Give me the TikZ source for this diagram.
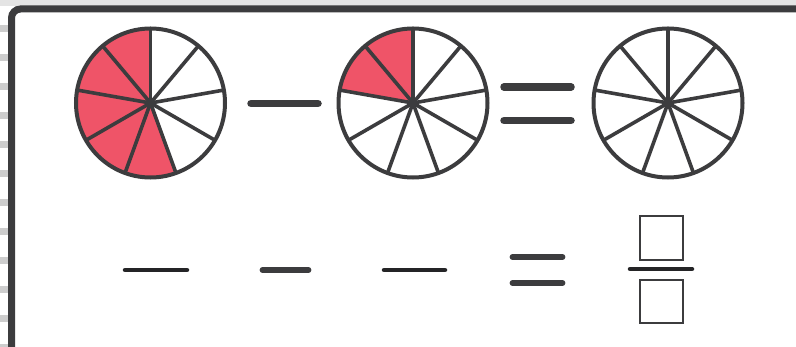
\documentclass[tikz,border=0pt]{standalone}
\definecolor{ink}{HTML}{3C3C3E}
\definecolor{inkdark}{HTML}{242426}
\definecolor{pie}{HTML}{EF5468}
\definecolor{bgstrip}{HTML}{E4E4E4}
\definecolor{dashgray}{HTML}{CDCDCD}
\tikzset{
  rim/.style={draw=ink, line width=4pt},
  spoke/.style={draw=ink, line width=3.6pt, line cap=round},
  opbar/.style={draw=ink, line width=7.5pt, line cap=round},
  blank/.style={draw=inkdark, line width=4.5pt, line cap=round},
  blankmid/.style={draw=ink, line width=5.8pt, line cap=round},
  answerbox/.style={draw=ink, line width=2pt},
}
\begin{document}
\begin{tikzpicture}[x=1pt,y=1pt]
\useasboundingbox (0,0) rectangle (796,346);
\begin{scope}
\clip (0,0) rectangle (796,346);
% background strips
\fill[white] (0,0) rectangle (796,346);
\fill[bgstrip] (0,340) rectangle (796,346);
\foreach \k in {0,...,11} {
  \fill[dashgray] (0,{346-25-29*\k}) rectangle (8,{346-32-29*\k});
}
% frame
\draw[draw=ink, line width=7pt, rounded corners=9pt, fill=white] (11.5,-20) rectangle (820,337);
\end{scope}
% circle centres
\coordinate (c1) at (150.5,243);
\coordinate (c2) at (413,243);
\coordinate (c3) at (668,243);
\def\R{74.5}
% red sectors
\fill[pie] (c1) -- ++(90:\R) arc (90:290:\R) -- cycle;
\fill[pie] (c2) -- ++(90:\R) arc (90:170:\R) -- cycle;
% spokes and rims
\foreach \c in {c1,c2,c3} {
  \foreach \a in {90,50,10,-30,-70,-110,-150,170,130} {
    \draw[spoke] (\c) -- ++(\a:\R);
  }
  \fill[ink] (\c) circle (3.5);
  \draw[rim] (\c) circle (\R);
}
% operators top row
\coordinate (m1) at (251,242.5);
\coordinate (m2) at (318,242.5);
\draw[opbar] (m1) -- (m2);
\coordinate (e1) at (504,259);
\coordinate (e2) at (571,259);
\coordinate (e3) at (504,225.5);
\coordinate (e4) at (571,225.5);
\draw[opbar] (e1) -- (e2);
\draw[opbar] (e3) -- (e4);
% bottom row
\coordinate (b1) at (125,76);
\coordinate (b2) at (187,76);
\draw[blank] (b1) -- (b2);
\coordinate (b3) at (262.5,76);
\coordinate (b4) at (308.5,76);
\draw[blankmid] (b3) -- (b4);
\coordinate (b5) at (384,76);
\coordinate (b6) at (445,76);
\draw[blank] (b5) -- (b6);
\coordinate (q1) at (512.5,89);
\coordinate (q2) at (562.5,89);
\coordinate (q3) at (512.5,63);
\coordinate (q4) at (562.5,63);
\draw[blankmid] (q1) -- (q2);
\draw[blankmid] (q3) -- (q4);
% fraction with answer boxes
\node[answerbox, minimum width=43pt, minimum height=43pt, inner sep=0pt] (numbox) at (661,108) {};
\node[answerbox, minimum width=43pt, minimum height=43pt, inner sep=0pt] (denbox) at (661,45) {};
\coordinate (f1) at (630,77);
\coordinate (f2) at (692,77);
\draw[blank] (f1) -- (f2);
\end{tikzpicture}
\end{document}
